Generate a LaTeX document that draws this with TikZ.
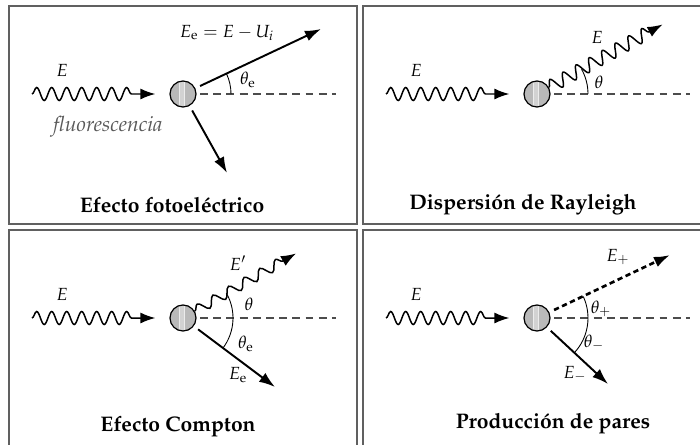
\documentclass[tikz,border=0pt]{standalone}
\usepackage[T1]{fontenc}
\usepackage{mathpazo}
\usepackage{xcolor}
\usetikzlibrary{positioning, arrows.meta, decorations.pathmorphing}

\tikzset{
  panel/.style={draw=gray!75!black, line width=1.1pt},
  atom/.style={circle, draw, line width=0.7pt, fill=gray!55, minimum size=0.52cm, inner sep=0pt,
    path picture={
      \fill[gray!35] ([xshift=-1.9pt]path picture bounding box.south) rectangle ([xshift=0.6pt]path picture bounding box.north);
      \draw[white!85!gray, line width=0.3pt] ([xshift=-1.9pt]path picture bounding box.south) -- ([xshift=-1.9pt]path picture bounding box.north);
      \draw[white!85!gray, line width=0.3pt] ([xshift=0.6pt]path picture bounding box.south) -- ([xshift=0.6pt]path picture bounding box.north);
    }},
  refline/.style={gray!60!black, line width=0.6pt, dash pattern=on 4.5pt off 3pt, shorten <=2pt},
  photon/.style={decorate, decoration={snake, segment length=0.3cm, amplitude=0.13cm, post length=#1},
    line width=0.85pt, -{Latex[length=0.3cm, width=0.22cm]}},
  photon/.default=0.45cm,
  particle/.style={line width=1.1pt, shorten <=3pt, -{Latex[length=0.32cm, width=0.22cm]}},
  positron/.style={particle, line width=1.5pt, dash pattern=on 3pt off 2pt},
  anglearc/.style={line width=0.5pt},
  proctitle/.style={font=\bfseries\large},
}

\begin{document}
\begin{tikzpicture}

\useasboundingbox (0,0) rectangle (14,8.88);
\clip (0,0) rectangle (14,8.88);

% Efecto fotoelectrico
\begin{scope}[shift={(0.18,4.40)}]
\draw[panel] (0,0) rectangle (6.96,4.36);
\node[atom] (atomA) at (3.48,2.60) {};
\coordinate (srcA) at (0.46,2.60);
\coordinate (refA) at (6.54,2.60);
\coordinate (eupA) at (6.24,3.90);
\coordinate (elowA) at (4.36,1.02);
\draw[photon] (srcA) -- ([xshift=-0.28cm]atomA.west);
\draw[refline] (atomA.east) -- (refA);
\draw[particle] (atomA.25) -- (eupA);
\draw[particle] (atomA.-61) -- (elowA);
\draw[anglearc] ([shift={(0:0.96)}]atomA.center) arc[start angle=0, end angle=25, radius=0.96];
\node (EinA) at (1.06,3.08) {$E$};
\node (EeA) at (4.36,3.82) {$E_{\mathrm{e}} = E - U_i$};
\node (thA) at (4.78,2.88) {$\theta_{\mathrm{e}}$};
\node[gray!70!black, font=\itshape\large] (fluoA) at (1.98,1.94) {fluorescencia};
\node[proctitle] (titleA) at (3.26,0.38) {Efecto fotoel\'ectrico};
\end{scope}

% Dispersion de Rayleigh
\begin{scope}[shift={(7.26,4.40)}]
\draw[panel] (0,0) rectangle (6.96,4.36);
\node[atom] (atomB) at (3.48,2.60) {};
\coordinate (srcB) at (0.46,2.60);
\coordinate (refB) at (6.54,2.60);
\coordinate (scatB) at (5.99,3.99);
\draw[photon] (srcB) -- ([xshift=-0.28cm]atomB.west);
\draw[refline] (atomB.east) -- (refB);
\draw[photon=0.3cm] (atomB.29) -- (scatB);
\draw[anglearc] ([shift={(0:1.02)}]atomB.center) arc[start angle=0, end angle=29, radius=1.02];
\node (EinB) at (1.06,3.08) {$E$};
\node (EoutB) at (4.68,3.74) {$E$};
\node (thB) at (4.72,2.84) {$\theta$};
\node[proctitle] (titleB) at (3.20,0.38) {Dispersi\'on de Rayleigh};
\end{scope}

% Efecto Compton
\begin{scope}[shift={(0.18,-0.08)}]
\draw[panel] (0,0) rectangle (6.96,4.36);
\node[atom] (atomC) at (3.48,2.60) {};
\coordinate (srcC) at (0.46,2.60);
\coordinate (refC) at (6.54,2.60);
\coordinate (scatC) at (5.74,3.89);
\coordinate (elecC) at (5.32,1.22);
\draw[photon] (srcC) -- ([xshift=-0.28cm]atomC.west);
\draw[refline] (atomC.east) -- (refC);
\draw[photon=0.3cm, decoration={segment length=0.36cm, amplitude=0.1cm}] (atomC.30) -- (scatC);
\draw[particle] (atomC.-37) -- (elecC);
\draw[anglearc] ([shift={(-37:1.0)}]atomC.center) arc[start angle=-37, end angle=30, radius=1.0];
\node (EinC) at (1.06,3.08) {$E$};
\node (EoutC) at (4.58,3.70) {$E'$};
\node (EeC) at (4.58,1.46) {$E_{\mathrm{e}}$};
\node (thC) at (4.80,2.88) {$\theta$};
\node (theC) at (4.74,2.08) {$\theta_{\mathrm{e}}$};
\node[proctitle] (titleC) at (3.38,0.42) {Efecto Compton};
\end{scope}

% Produccion de pares
\begin{scope}[shift={(7.26,-0.08)}]
\draw[panel] (0,0) rectangle (6.96,4.36);
\node[atom] (atomD) at (3.48,2.60) {};
\coordinate (srcD) at (0.46,2.60);
\coordinate (refD) at (6.54,2.60);
\coordinate (posD) at (6.14,3.86);
\coordinate (eleD) at (4.90,1.28);
\draw[photon] (srcD) -- ([xshift=-0.28cm]atomD.west);
\draw[refline] (atomD.east) -- (refD);
\draw[positron] (atomD.25) -- (posD);
\draw[particle] (atomD.-43) -- (eleD);
\draw[anglearc] ([shift={(-43:1.02)}]atomD.center) arc[start angle=-43, end angle=25, radius=1.02];
\node (EinD) at (1.06,3.08) {$E$};
\node (EpD) at (5.10,3.82) {$E_+$};
\node (EmD) at (4.24,1.48) {$E_-$};
\node (thpD) at (4.76,2.78) {$\theta_+$};
\node (thmD) at (4.62,2.10) {$\theta_-$};
\node[proctitle] (titleD) at (3.80,0.48) {Producci\'on de pares};
\end{scope}

\end{tikzpicture}
\end{document}
